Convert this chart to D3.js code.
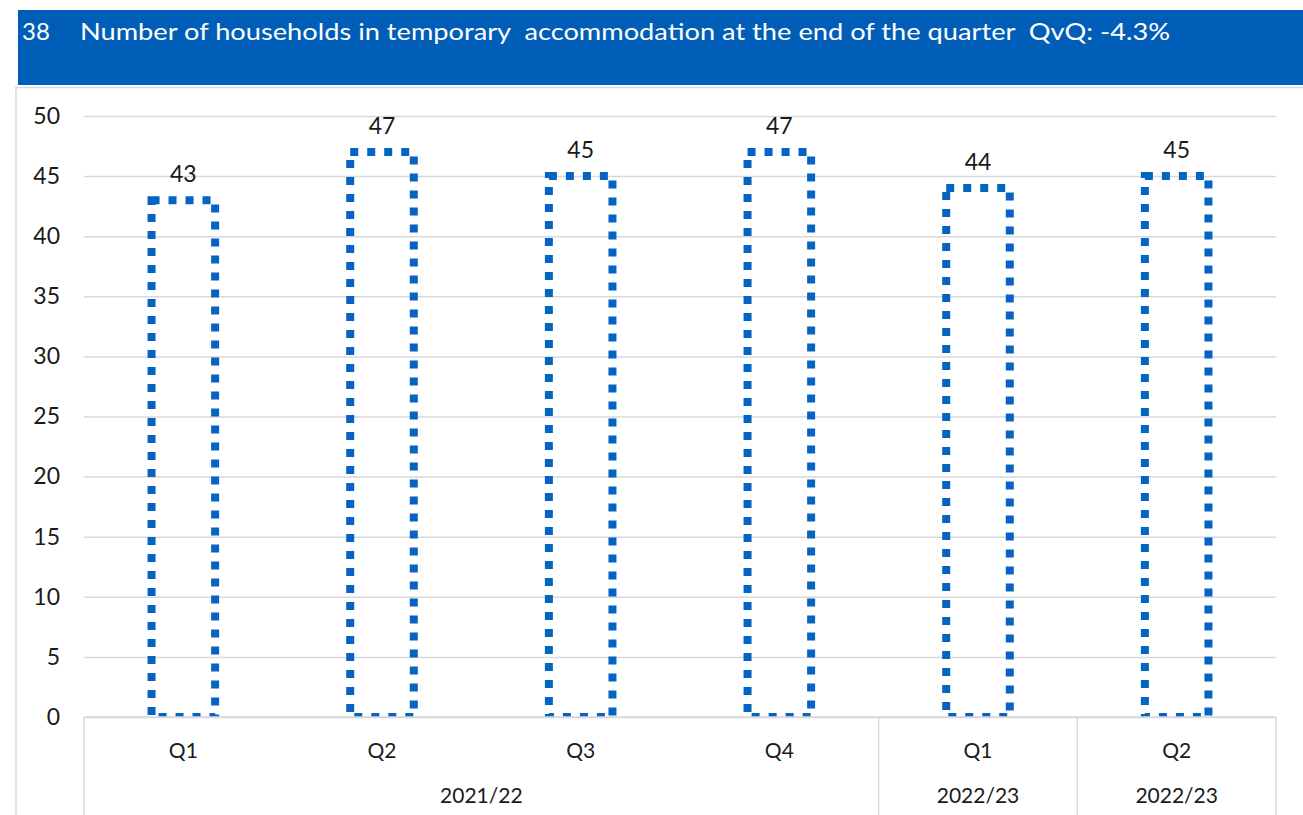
<!DOCTYPE html>
<html>
<head>
<meta charset="utf-8">
<script src="https://cdn.jsdelivr.net/npm/d3@7"></script>
<style>
  html, body { margin: 0; padding: 0; background: #ffffff; }
  svg { display: block; font-family: Lato, "Open Sans", sans-serif; }
</style>
</head>
<body>
<svg id="chart" width="1303" height="815"></svg>
<script>
// Households in temporary accommodation, end of each quarter
const quarters = ["Q1", "Q2", "Q3", "Q4", "Q1", "Q2"];
const years = ["2021/22", "2021/22", "2021/22", "2021/22", "2022/23", "2022/23"];
const households = [43, 47, 45, 47, 44, 45];
const yTicks = [0, 5, 10, 15, 20, 25, 30, 35, 40, 45, 50];
const titleNumber = "38";
const titleText = "Number of households in temporary\u00a0\u00a0accommodation at the end of the quarter\u00a0\u00a0QvQ: -4.3%";

// Year groups spanning consecutive quarters
const yearGroups = [
  { label: "2021/22", from: 0, to: 3 },
  { label: "2022/23", from: 4, to: 4 },
  { label: "2022/23", from: 5, to: 5 }
];

const svg = d3.select("#chart");
const blue = "#005EB8";
const barBlue = "#0563C1";
const grid = "#D9D9D9";
const textCol = "#1a1a1a";

const plot = { left: 84, right: 1276, top: 116, bottom: 717 };

// Header band
svg.append("rect")
  .attr("x", 18).attr("y", 10)
  .attr("width", 1303 - 18).attr("height", 75)
  .attr("fill", blue);

svg.append("text")
  .attr("x", 22).attr("y", 40)
  .attr("fill", "#ffffff")
  .attr("font-size", 24)
  .text(titleNumber);

// title squeezed slightly so it ends near x = 1170
svg.append("text")
  .attr("x", 80).attr("y", 40)
  .attr("fill", "#ffffff")
  .attr("font-size", 24)
  .attr("textLength", 1090)
  .attr("lengthAdjust", "spacingAndGlyphs")
  .text(titleText);

// Chart frame
svg.append("line")
  .attr("x1", 15).attr("x2", 1303).attr("y1", 87.5).attr("y2", 87.5)
  .attr("stroke", grid).attr("stroke-width", 1.5);
svg.append("line")
  .attr("x1", 16).attr("x2", 16).attr("y1", 87).attr("y2", 815)
  .attr("stroke", grid).attr("stroke-width", 1.5);

// Scales
const x = d3.scaleBand()
  .domain(d3.range(households.length))
  .range([plot.left, plot.right])
  .paddingInner(0.68)
  .paddingOuter(0.34);

const xOuter = d3.scaleBand()
  .domain(d3.range(households.length))
  .range([plot.left, plot.right]);

const y = d3.scaleLinear().domain([0, 50]).range([plot.bottom, plot.top]);

// Gridlines and y labels
const yAxis = d3.axisLeft(y).tickValues(yTicks).tickSize(-(plot.right - plot.left)).tickPadding(24);
const gy = svg.append("g").attr("transform", `translate(${plot.left},0)`).call(yAxis);
gy.select(".domain").remove();
gy.selectAll(".tick line").attr("stroke", grid).attr("stroke-width", 1.5);
gy.selectAll(".tick text")
  .attr("fill", textCol)
  .attr("font-size", 23)
  .attr("font-family", "Lato, sans-serif");

// Clip bars to plot area
svg.append("clipPath").attr("id", "plotClip")
  .append("rect")
  .attr("x", plot.left - 20).attr("y", 0)
  .attr("width", plot.right - plot.left + 40).attr("height", plot.bottom);

// Dotted outline bars
svg.append("g").attr("clip-path", "url(#plotClip)")
  .selectAll("rect")
  .data(households)
  .join("rect")
  .attr("x", (d, i) => x(i))
  .attr("y", d => y(d))
  .attr("width", x.bandwidth())
  .attr("height", d => y(0) - y(d))
  .attr("fill", "none")
  .attr("stroke", barBlue)
  .attr("stroke-width", 8)
  .attr("stroke-dasharray", "8 9");

// Value labels
svg.append("g")
  .selectAll("text")
  .data(households)
  .join("text")
  .attr("x", (d, i) => x(i) + x.bandwidth() / 2)
  .attr("y", d => y(d) - 18)
  .attr("text-anchor", "middle")
  .attr("fill", textCol)
  .attr("font-size", 23)
  .text(d => d);

// Category axis baseline
svg.append("line")
  .attr("x1", plot.left).attr("x2", plot.right)
  .attr("y1", plot.bottom).attr("y2", plot.bottom)
  .attr("stroke", grid).attr("stroke-width", 1.5);

// Group separators
const sepX = [plot.left].concat(yearGroups.map(g => xOuter(g.to) + xOuter.bandwidth()));
svg.append("g")
  .selectAll("line")
  .data(sepX)
  .join("line")
  .attr("x1", d => d).attr("x2", d => d)
  .attr("y1", plot.bottom).attr("y2", 815)
  .attr("stroke", grid).attr("stroke-width", 1.5);

// Quarter labels
svg.append("g")
  .selectAll("text")
  .data(quarters)
  .join("text")
  .attr("x", (d, i) => xOuter(i) + xOuter.bandwidth() / 2)
  .attr("y", 758)
  .attr("text-anchor", "middle")
  .attr("fill", textCol)
  .attr("font-size", 21)
  .text(d => d);

// Year labels
svg.append("g")
  .selectAll("text")
  .data(yearGroups)
  .join("text")
  .attr("x", g => (xOuter(g.from) + xOuter(g.to) + xOuter.bandwidth()) / 2)
  .attr("y", 803)
  .attr("text-anchor", "middle")
  .attr("fill", textCol)
  .attr("font-size", 21)
  .text(g => g.label);
</script>
</body>
</html>
